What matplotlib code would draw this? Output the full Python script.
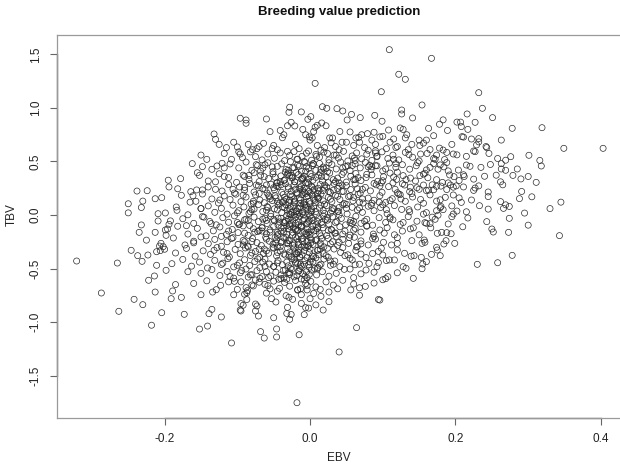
import matplotlib
matplotlib.use("Agg")
import matplotlib.pyplot as plt

# ---------------- data (EBV, TBV), grouped by TBV band ----------------
ebv_top = [0.109, 0.167, 0.122, 0.131, 0.007, 0.232, 0.098, 0.154, 0.017, -0.028,
           -0.096, -0.088, -0.088, -0.029, -0.012, 0.023, 0.037, 0.045, 0.057, 0.126,
           0.126, 0.089, 0.141, 0.069, 0.051, 0.001, -0.003, -0.060, -0.026, -0.031,
           -0.021, 0.016, 0.022, 0.010, 0.007, 0.099, 0.124, 0.128, 0.237, 0.251,
           0.216, 0.183, 0.178, 0.202, 0.207, 0.208, 0.227, 0.217, 0.163, 0.278,
           0.319, -0.132, -0.130, -0.100, -0.055, -0.041, -0.036, -0.038, 0.108, 0.041,
           0.055, 0.079, 0.088, 0.071, 0.096, 0.100, 0.133, 0.131, 0.150, 0.160,
           0.156, -0.006, -0.001, 0.003, 0.000, 0.027, 0.031, 0.029, 0.044, 0.050,
           0.063, 0.067, -0.064, -0.079, -0.073, 0.189, 0.170, 0.209, 0.211, 0.222,
           0.232, 0.232, 0.229, 0.242, 0.243, 0.263, 0.349, 0.403, 0.151, 0.183,
           -0.085, -0.070, -0.050, -0.045, -0.020, -0.015, 0.010, 0.015, 0.020, 0.035,
           0.040, 0.060, 0.075, 0.080, 0.090, 0.105, 0.110, 0.120, 0.135, 0.140,
           -0.115, -0.125, -0.105, 0.178, 0.195, 0.165, 0.005, -0.010, 0.085, 0.115]
tbv_top = [1.545, 1.464, 1.315, 1.268, 1.230, 1.143, 1.152, 1.028, 1.012, 1.007,
           0.904, 0.888, 0.857, 0.960, 0.963, 0.997, 0.994, 0.972, 0.940, 0.981,
           0.944, 0.931, 0.907, 0.910, 0.888, 0.919, 0.894, 0.897, 0.866, 0.834,
           0.832, 0.860, 0.834, 0.838, 0.820, 0.876, 0.813, 0.800, 0.997, 0.910,
           0.944, 0.889, 0.848, 0.868, 0.868, 0.826, 0.866, 0.800, 0.810, 0.810,
           0.816, 0.757, 0.707, 0.636, 0.779, 0.790, 0.750, 0.722, 0.794, 0.780,
           0.776, 0.760, 0.773, 0.750, 0.730, 0.735, 0.750, 0.720, 0.700, 0.700,
           0.672, 0.750, 0.730, 0.720, 0.700, 0.720, 0.720, 0.675, 0.680, 0.680,
           0.720, 0.725, 0.670, 0.610, 0.620, 0.790, 0.741, 0.732, 0.728, 0.710,
           0.714, 0.683, 0.655, 0.640, 0.630, 0.700, 0.623, 0.623, 0.650, 0.607,
           0.660, 0.640, 0.650, 0.610, 0.660, 0.620, 0.650, 0.605, 0.630, 0.640,
           0.610, 0.650, 0.630, 0.605, 0.660, 0.620, 0.680, 0.640, 0.610, 0.660,
           0.630, 0.660, 0.680, 0.625, 0.660, 0.612, 0.780, 0.800, 0.700, 0.710]

ebv_p05 = [-0.093, 0.225, 0.227, 0.301, 0.316, 0.269, 0.174, 0.161, 0.197, 0.202,
           0.215, 0.170, 0.188, -0.150, -0.118, -0.108, -0.082, -0.075, -0.066, -0.058,
           -0.049, -0.041, -0.035, -0.028, -0.022, -0.017, -0.011, -0.005, 0.002, 0.008,
           0.013, 0.019, 0.026, 0.033, 0.039, 0.046, 0.052, 0.058, 0.064, 0.071,
           0.078, 0.085, 0.092, 0.099, 0.107, 0.114, 0.122, 0.131, 0.141, 0.150,
           0.246, 0.258, 0.185, -0.098, -0.002, 0.024, 0.061, 0.136, -0.031, 0.276]
tbv_p05 = [0.536, 0.598, 0.592, 0.558, 0.510, 0.512, 0.560, 0.575, 0.570, 0.562,
           0.548, 0.528, 0.585, 0.560, 0.575, 0.520, 0.590, 0.545, 0.515, 0.570,
           0.530, 0.580, 0.508, 0.556, 0.592, 0.522, 0.548, 0.578, 0.512, 0.566,
           0.540, 0.588, 0.515, 0.560, 0.532, 0.595, 0.505, 0.552, 0.580, 0.525,
           0.568, 0.510, 0.545, 0.590, 0.528, 0.560, 0.515, 0.585, 0.540, 0.505,
           0.575, 0.528, 0.518, 0.590, 0.598, 0.575, 0.532, 0.565, 0.595, 0.545]

ebv_p04 = [-0.162, -0.128, -0.121, -0.110, -0.135, 0.263, 0.263, 0.269, 0.318, 0.215,
           0.220, 0.188, 0.179, 0.170, 0.165, 0.176, 0.204, 0.160, 0.190, -0.098,
           -0.088, -0.080, -0.072, -0.065, -0.058, -0.051, -0.045, -0.039, -0.033, -0.027,
           -0.022, -0.017, -0.012, -0.007, -0.002, 0.003, 0.008, 0.013, 0.018, 0.024,
           0.030, 0.036, 0.042, 0.049, 0.055, 0.062, 0.069, 0.076, 0.084, 0.092,
           0.100, 0.109, 0.118, 0.127, 0.137, 0.148, -0.148, -0.015, 0.005, 0.045,
           -0.030, -0.062, 0.015, 0.082, 0.235, 0.248, -0.005, 0.026, 0.058, 0.285]
tbv_p04 = [0.480, 0.458, 0.483, 0.477, 0.427, 0.480, 0.430, 0.418, 0.458, 0.467,
           0.455, 0.490, 0.468, 0.480, 0.445, 0.428, 0.420, 0.421, 0.412, 0.440,
           0.495, 0.418, 0.462, 0.438, 0.488, 0.405, 0.455, 0.478, 0.425, 0.498,
           0.442, 0.468, 0.410, 0.490, 0.435, 0.462, 0.418, 0.482, 0.448, 0.405,
           0.472, 0.430, 0.495, 0.452, 0.415, 0.478, 0.440, 0.492, 0.425, 0.460,
           0.412, 0.485, 0.445, 0.470, 0.428, 0.488, 0.452, 0.455, 0.478, 0.440,
           0.418, 0.470, 0.428, 0.465, 0.445, 0.472, 0.452, 0.488, 0.462, 0.430]

ebv_p03 = [-0.155, -0.152, 0.279, 0.256, 0.290, 0.311, 0.192, 0.198, 0.211, 0.156,
           0.174, 0.151, 0.162, -0.178, -0.140, -0.125, -0.112, -0.101, -0.092, -0.084,
           -0.077, -0.070, -0.063, -0.057, -0.051, -0.045, -0.040, -0.035, -0.030, -0.025,
           -0.021, -0.016, -0.012, -0.008, -0.004, 0.000, 0.004, 0.008, 0.012, 0.017,
           0.022, 0.027, 0.032, 0.038, 0.044, 0.050, 0.056, 0.063, 0.070, 0.077,
           0.085, 0.093, 0.101, 0.110, 0.119, 0.128, 0.138, 0.182, 0.225, 0.240,
           -0.010, -0.028, 0.002, -0.048, 0.014, 0.035, -0.068, 0.060, 0.098, -0.002,
           -0.019, -0.036, 0.025, 0.145, 0.205, 0.262, -0.195, -0.118, 0.115, 0.300]
tbv_p03 = [0.395, 0.370, 0.370, 0.372, 0.337, 0.305, 0.374, 0.358, 0.376, 0.382,
           0.330, 0.368, 0.348, 0.340, 0.318, 0.385, 0.350, 0.305, 0.372, 0.332,
           0.395, 0.312, 0.358, 0.340, 0.384, 0.302, 0.365, 0.328, 0.392, 0.345,
           0.310, 0.378, 0.338, 0.362, 0.305, 0.388, 0.325, 0.352, 0.372, 0.318,
           0.358, 0.392, 0.330, 0.345, 0.378, 0.308, 0.362, 0.388, 0.322, 0.350,
           0.375, 0.315, 0.358, 0.392, 0.332, 0.368, 0.345, 0.305, 0.335, 0.362,
           0.348, 0.368, 0.360, 0.352, 0.395, 0.312, 0.372, 0.330, 0.300, 0.335,
           0.398, 0.322, 0.302, 0.318, 0.322, 0.310, 0.325, 0.360, 0.355, 0.360]

ebv_p02 = [-0.238, -0.224, -0.194, -0.164, -0.156, -0.148, -0.130, -0.121, 0.291, 0.193,
           0.197, 0.201, 0.180, 0.174, 0.168, 0.163, 0.160, 0.156, 0.170, 0.188,
           0.211, 0.227, 0.225, 0.232, -0.112, -0.104, -0.097, -0.090, -0.083, -0.077,
           -0.071, -0.065, -0.059, -0.054, -0.049, -0.044, -0.039, -0.034, -0.030, -0.026,
           -0.022, -0.018, -0.014, -0.010, -0.006, -0.002, 0.002, 0.006, 0.010, 0.014,
           0.018, 0.023, 0.028, 0.033, 0.038, 0.044, 0.050, 0.056, 0.062, 0.069,
           0.076, 0.083, 0.091, 0.099, 0.108, 0.117, 0.127, 0.137, 0.147, 0.245,
           -0.140, -0.182, -0.008, -0.020, 0.004, -0.040, 0.020, -0.062, 0.040, 0.088,
           -0.030, -0.012, 0.012, -0.050, 0.065, 0.120, 0.265, -0.090, 0.032, 0.000]
tbv_p02 = [0.224, 0.227, 0.262, 0.218, 0.234, 0.234, 0.240, 0.224, 0.220, 0.280,
           0.260, 0.272, 0.270, 0.268, 0.282, 0.232, 0.228, 0.280, 0.236, 0.238,
           0.262, 0.252, 0.230, 0.272, 0.285, 0.205, 0.262, 0.232, 0.295, 0.215,
           0.272, 0.248, 0.205, 0.288, 0.235, 0.265, 0.212, 0.292, 0.245, 0.222,
           0.280, 0.208, 0.255, 0.232, 0.298, 0.218, 0.268, 0.242, 0.202, 0.285,
           0.228, 0.262, 0.210, 0.295, 0.248, 0.220, 0.275, 0.238, 0.290, 0.205,
           0.258, 0.225, 0.282, 0.212, 0.265, 0.240, 0.292, 0.218, 0.255, 0.215,
           0.262, 0.245, 0.250, 0.240, 0.228, 0.282, 0.252, 0.238, 0.270, 0.295,
           0.262, 0.268, 0.225, 0.255, 0.245, 0.208, 0.282, 0.258, 0.232, 0.205]

ebv_p01 = [-0.204, -0.213, -0.177, -0.161, -0.165, -0.157, -0.148, 0.288, 0.345, 0.222,
           0.197, 0.179, 0.174, 0.165, 0.186, 0.156, 0.208, 0.245, -0.250, -0.135,
           -0.126, -0.118, -0.110, -0.102, -0.095, -0.088, -0.081, -0.075, -0.069, -0.063,
           -0.057, -0.052, -0.047, -0.042, -0.037, -0.033, -0.029, -0.025, -0.021, -0.017,
           -0.013, -0.009, -0.005, -0.001, 0.003, 0.007, 0.011, 0.015, 0.020, 0.025,
           0.030, 0.035, 0.041, 0.047, 0.053, 0.059, 0.066, 0.073, 0.080, 0.088,
           0.096, 0.104, 0.113, 0.122, 0.131, 0.141, 0.152, 0.262, 0.305, -0.230,
           -0.015, -0.035, 0.005, -0.055, 0.018, -0.003, -0.022, 0.038, -0.078, 0.060,
           -0.008, -0.028, 0.010, -0.045, 0.028, -0.092, 0.085, 0.110, -0.011, 0.000]
tbv_p01 = [0.162, 0.152, 0.184, 0.180, 0.120, 0.128, 0.196, 0.153, 0.120, 0.140,
           0.187, 0.142, 0.130, 0.188, 0.165, 0.110, 0.118, 0.172, 0.105, 0.150,
           0.112, 0.178, 0.145, 0.195, 0.125, 0.168, 0.102, 0.188, 0.140, 0.115,
           0.182, 0.135, 0.160, 0.108, 0.192, 0.148, 0.118, 0.175, 0.130, 0.198,
           0.142, 0.105, 0.170, 0.128, 0.188, 0.115, 0.155, 0.195, 0.102, 0.165,
           0.125, 0.185, 0.145, 0.108, 0.172, 0.132, 0.192, 0.112, 0.158, 0.138,
           0.180, 0.118, 0.152, 0.195, 0.128, 0.168, 0.145, 0.125, 0.170, 0.130,
           0.160, 0.165, 0.150, 0.150, 0.132, 0.178, 0.115, 0.175, 0.128, 0.165,
           0.118, 0.140, 0.172, 0.125, 0.148, 0.185, 0.110, 0.135, 0.190, 0.105]

ebv_p00 = [-0.209, -0.199, -0.184, -0.183, -0.168, 0.233, 0.269, 0.274, 0.266, 0.295,
           0.183, 0.179, 0.160, 0.156, 0.174, 0.195, 0.215, 0.245, -0.232, -0.150,
           -0.140, -0.131, -0.122, -0.114, -0.106, -0.098, -0.091, -0.084, -0.077, -0.071,
           -0.065, -0.059, -0.054, -0.049, -0.044, -0.039, -0.035, -0.031, -0.027, -0.023,
           -0.019, -0.015, -0.011, -0.007, -0.003, 0.001, 0.005, 0.009, 0.013, 0.018,
           0.023, 0.028, 0.033, 0.039, 0.045, 0.051, 0.058, 0.065, 0.072, 0.080,
           0.088, 0.097, 0.106, 0.116, 0.126, 0.137, 0.148, 0.330, -0.250, -0.006,
           -0.025, 0.002, -0.045, 0.015, -0.013, -0.033, 0.030, -0.060, 0.050, -0.002,
           -0.017, 0.008, -0.038, 0.020, -0.082, 0.068, -0.010, -0.028, 0.100, 0.040]
tbv_p00 = [0.012, 0.019, 0.075, 0.044, 0.002, 0.087, 0.095, 0.080, 0.062, 0.018,
           0.050, 0.068, 0.022, 0.008, 0.040, 0.085, 0.030, 0.055, 0.070, 0.060,
           0.085, 0.025, 0.062, 0.008, 0.092, 0.040, 0.075, 0.015, 0.055, 0.098,
           0.032, 0.078, 0.012, 0.058, 0.092, 0.022, 0.068, 0.045, 0.005, 0.085,
           0.038, 0.062, 0.015, 0.095, 0.050, 0.028, 0.080, 0.005, 0.065, 0.042,
           0.088, 0.018, 0.058, 0.035, 0.095, 0.010, 0.072, 0.048, 0.025, 0.082,
           0.040, 0.070, 0.012, 0.088, 0.052, 0.030, 0.075, 0.060, 0.020, 0.072,
           0.025, 0.058, 0.048, 0.092, 0.080, 0.095, 0.040, 0.045, 0.062, 0.012,
           0.005, 0.032, 0.075, 0.015, 0.030, 0.065, 0.030, 0.058, 0.095, 0.070]

ebv_m00 = [-0.232, -0.209, -0.192, -0.194, 0.274, 0.217, 0.172, 0.165, 0.160, 0.158,
           0.190, 0.195, 0.197, 0.202, 0.176, 0.243, -0.175, -0.160, -0.148, -0.138,
           -0.129, -0.120, -0.112, -0.104, -0.097, -0.090, -0.083, -0.077, -0.071, -0.065,
           -0.059, -0.054, -0.049, -0.044, -0.040, -0.036, -0.032, -0.028, -0.024, -0.020,
           -0.016, -0.012, -0.008, -0.004, 0.000, 0.004, 0.008, 0.012, 0.016, 0.021,
           0.026, 0.031, 0.037, 0.043, 0.049, 0.056, 0.063, 0.070, 0.078, 0.086,
           0.095, 0.104, 0.114, 0.124, 0.135, 0.147, -0.030, -0.010, -0.020, 0.002,
           -0.042, 0.018, -0.062, 0.035, -0.005, -0.026, 0.055, -0.085, 0.010, -0.016,
           -0.034, -0.050, 0.075, -0.002, -0.014, 0.024, -0.100, 0.110, -0.022, 0.300]
tbv_m00 = [-0.093, -0.056, -0.055, -0.087, -0.031, -0.028, -0.040, -0.081, -0.078, -0.071,
           -0.084, -0.016, 0.009, 0.037, -0.002, -0.062, -0.035, -0.078, -0.015, -0.060,
           -0.092, -0.025, -0.068, -0.008, -0.085, -0.045, -0.098, -0.020, -0.062, -0.038,
           -0.080, -0.012, -0.055, -0.095, -0.030, -0.070, -0.005, -0.088, -0.048, -0.022,
           -0.065, -0.098, -0.035, -0.075, -0.010, -0.052, -0.090, -0.028, -0.068, -0.042,
           -0.085, -0.018, -0.060, -0.032, -0.092, -0.050, -0.012, -0.078, -0.040, -0.095,
           -0.025, -0.070, -0.045, -0.088, -0.015, -0.058, -0.040, -0.050, -0.078, -0.030,
           -0.065, -0.008, -0.030, -0.070, -0.085, -0.018, -0.072, -0.052, -0.060, -0.092,
           -0.055, -0.042, -0.058, -0.062, -0.012, -0.048, -0.070, -0.035, -0.002, -0.095]

ebv_m01 = [-0.235, -0.213, -0.196, -0.199, -0.198, 0.343, 0.273, 0.250, 0.252, 0.181,
           0.175, 0.188, 0.194, 0.166, 0.150, 0.210, -0.182, -0.168, -0.155, -0.143,
           -0.133, -0.124, -0.115, -0.107, -0.099, -0.092, -0.085, -0.078, -0.072, -0.066,
           -0.060, -0.055, -0.050, -0.045, -0.040, -0.036, -0.032, -0.028, -0.024, -0.020,
           -0.016, -0.012, -0.008, -0.004, 0.000, 0.004, 0.008, 0.013, 0.018, 0.023,
           0.029, 0.035, 0.041, 0.048, 0.055, 0.062, 0.070, 0.078, 0.087, 0.096,
           0.106, 0.116, 0.127, 0.138, -0.018, -0.030, -0.006, 0.010, -0.045, 0.025,
           -0.070, 0.045, -0.012, -0.024, 0.002, -0.036, 0.060, -0.090, 0.015, -0.002]
tbv_m01 = [-0.162, -0.162, -0.131, -0.140, -0.190, -0.193, -0.162, -0.131, -0.159, -0.162,
           -0.171, -0.165, -0.175, -0.120, -0.185, -0.110, -0.105, -0.178, -0.125, -0.195,
           -0.148, -0.112, -0.182, -0.135, -0.165, -0.102, -0.190, -0.128, -0.155, -0.118,
           -0.175, -0.140, -0.108, -0.195, -0.152, -0.122, -0.180, -0.105, -0.162, -0.138,
           -0.198, -0.115, -0.158, -0.132, -0.185, -0.108, -0.145, -0.172, -0.120, -0.192,
           -0.135, -0.168, -0.110, -0.150, -0.188, -0.125, -0.160, -0.105, -0.178, -0.140,
           -0.118, -0.185, -0.150, -0.130, -0.150, -0.130, -0.172, -0.128, -0.162, -0.145,
           -0.145, -0.178, -0.105, -0.188, -0.138, -0.155, -0.142, -0.170, -0.195, -0.162]

ebv_m02 = [-0.205, -0.207, -0.202, 0.157, 0.158, 0.154, 0.187, 0.184, 0.199, 0.120,
           0.120, -0.225, -0.188, -0.172, -0.160, -0.150, -0.140, -0.131, -0.122, -0.114,
           -0.106, -0.099, -0.092, -0.085, -0.079, -0.073, -0.067, -0.061, -0.056, -0.051,
           -0.046, -0.041, -0.036, -0.032, -0.028, -0.024, -0.020, -0.016, -0.012, -0.008,
           -0.004, 0.000, 0.004, 0.009, 0.014, 0.019, 0.025, 0.031, 0.038, 0.045,
           0.053, 0.061, 0.070, 0.080, 0.090, 0.101, 0.140, -0.022, -0.010, -0.030,
           0.002, -0.040, 0.015, -0.060, 0.028, -0.018, -0.002, -0.080, 0.040, 0.065]
tbv_m02 = [-0.265, -0.290, -0.296, -0.234, -0.255, -0.265, -0.240, -0.271, -0.265, -0.212,
           -0.265, -0.235, -0.215, -0.280, -0.245, -0.205, -0.268, -0.228, -0.292, -0.250,
           -0.212, -0.275, -0.238, -0.298, -0.220, -0.258, -0.285, -0.208, -0.245, -0.272,
           -0.232, -0.295, -0.215, -0.262, -0.240, -0.282, -0.205, -0.255, -0.225, -0.290,
           -0.248, -0.212, -0.275, -0.230, -0.262, -0.298, -0.218, -0.250, -0.285, -0.228,
           -0.265, -0.208, -0.242, -0.280, -0.225, -0.255, -0.240, -0.270, -0.248, -0.238,
           -0.232, -0.258, -0.288, -0.225, -0.270, -0.222, -0.285, -0.248, -0.255, -0.295]

ebv_m03 = [-0.246, -0.237, -0.223, -0.211, -0.206, -0.200, 0.278, 0.175, 0.174, 0.179,
           0.167, 0.120, 0.130, 0.143, 0.139, 0.153, 0.100, 0.098, 0.086, 0.077,
           -0.185, -0.170, -0.158, -0.147, -0.137, -0.128, -0.119, -0.111, -0.103, -0.096,
           -0.089, -0.082, -0.075, -0.069, -0.063, -0.057, -0.051, -0.046, -0.041, -0.036,
           -0.031, -0.026, -0.021, -0.016, -0.011, -0.006, -0.001, 0.005, 0.011, 0.018,
           0.025, 0.033, 0.042, 0.052, 0.063, -0.018, -0.008, -0.028, 0.000, -0.045,
           0.012, -0.060, -0.014, -0.034, 0.003, 0.045, -0.080, 0.070, -0.004, -0.022]
tbv_m03 = [-0.330, -0.380, -0.374, -0.343, -0.333, -0.320, -0.377, -0.327, -0.302, -0.380,
           -0.368, -0.327, -0.358, -0.380, -0.385, -0.396, -0.374, -0.311, -0.360, -0.398,
           -0.355, -0.312, -0.385, -0.335, -0.368, -0.305, -0.348, -0.392, -0.322, -0.362,
           -0.308, -0.378, -0.340, -0.395, -0.318, -0.358, -0.302, -0.382, -0.335, -0.365,
           -0.312, -0.390, -0.345, -0.325, -0.372, -0.305, -0.352, -0.388, -0.328, -0.360,
           -0.395, -0.318, -0.350, -0.372, -0.332, -0.362, -0.332, -0.345, -0.318, -0.350,
           -0.370, -0.335, -0.395, -0.375, -0.382, -0.305, -0.355, -0.365, -0.398, -0.308]

ebv_m04 = [-0.321, -0.265, -0.231, -0.211, 0.258, 0.230, 0.160, 0.155, 0.128, 0.132,
           0.109, 0.105, 0.094, 0.092, 0.081, 0.068, 0.062, 0.041, 0.055, -0.190,
           -0.175, -0.163, -0.152, -0.141, -0.131, -0.122, -0.113, -0.105, -0.097, -0.090,
           -0.083, -0.076, -0.069, -0.062, -0.056, -0.050, -0.044, -0.038, -0.032, -0.027,
           -0.022, -0.017, -0.012, -0.007, -0.002, 0.004, 0.011, 0.019, 0.028, -0.020,
           -0.008, -0.030, 0.002, -0.045, 0.015, -0.065, -0.014, -0.001, 0.034, -0.100]
tbv_m04 = [-0.430, -0.449, -0.433, -0.470, -0.446, -0.461, -0.436, -0.458, -0.483, -0.498,
           -0.420, -0.426, -0.446, -0.483, -0.452, -0.460, -0.465, -0.483, -0.405, -0.455,
           -0.415, -0.478, -0.440, -0.495, -0.425, -0.462, -0.408, -0.485, -0.448, -0.418,
           -0.472, -0.435, -0.492, -0.412, -0.458, -0.480, -0.425, -0.465, -0.440, -0.498,
           -0.418, -0.455, -0.482, -0.428, -0.465, -0.438, -0.490, -0.412, -0.470, -0.440,
           -0.462, -0.475, -0.410, -0.448, -0.460, -0.440, -0.498, -0.488, -0.430, -0.470]

ebv_m05 = [-0.198, -0.168, 0.154, 0.142, 0.104, 0.107, 0.077, 0.070, 0.055, 0.047,
           -0.069, -0.066, -0.057, -0.054, -0.150, -0.135, -0.124, -0.114, -0.105, -0.096,
           -0.088, -0.080, -0.073, -0.047, -0.040, -0.034, -0.028, -0.022, -0.016, -0.010,
           -0.004, 0.002, 0.009, 0.017, 0.026, 0.036, -0.025, -0.012, -0.040, 0.088,
           -0.018, -0.005, -0.060, 0.120, -0.085, -0.030, 0.010, -0.110, 0.060, -0.001]
tbv_m05 = [-0.517, -0.530, -0.502, -0.592, -0.595, -0.576, -0.514, -0.550, -0.505, -0.508,
           -0.592, -0.576, -0.585, -0.570, -0.545, -0.510, -0.565, -0.528, -0.590, -0.540,
           -0.505, -0.558, -0.520, -0.535, -0.595, -0.512, -0.555, -0.578, -0.525, -0.548,
           -0.588, -0.515, -0.560, -0.530, -0.572, -0.545, -0.508, -0.598, -0.560, -0.535,
           -0.568, -0.530, -0.528, -0.540, -0.580, -0.540, -0.500, -0.575, -0.585, -0.555]

ebv_m06 = [-0.222, -0.214, 0.088, 0.076, -0.078, -0.080, -0.075, -0.123, -0.088, -0.129,
           -0.100, 0.014, -0.160, -0.142, -0.112, -0.062, -0.050, -0.042, -0.035, -0.028,
           -0.020, -0.013, -0.006, 0.001, 0.008, 0.022, 0.032, 0.045, 0.060, -0.017,
           -0.004, -0.095, 0.100, -0.185, -0.032, 0.068, -0.055, -0.008, 0.038, -0.070]
tbv_m06 = [-0.610, -0.570, -0.636, -0.667, -0.663, -0.654, -0.607, -0.657, -0.679, -0.698,
           -0.695, -0.695, -0.640, -0.615, -0.625, -0.648, -0.618, -0.685, -0.630, -0.665,
           -0.612, -0.690, -0.640, -0.620, -0.672, -0.625, -0.655, -0.610, -0.645, -0.698,
           -0.660, -0.625, -0.605, -0.650, -0.600, -0.680, -0.690, -0.605, -0.690, -0.628]

ebv_m07 = [-0.213, -0.189, -0.150, -0.177, -0.191, -0.134, -0.105, -0.087, -0.087, -0.086,
           -0.090, -0.033, -0.029, -0.024, -0.017, -0.004, 0.056, 0.068, 0.026, 0.005,
           0.000, 0.094, 0.096, -0.053, -0.287, -0.242, -0.060, -0.045, 0.015, -0.012]
tbv_m07 = [-0.720, -0.710, -0.745, -0.770, -0.782, -0.720, -0.745, -0.726, -0.790, -0.707,
           -0.740, -0.754, -0.769, -0.788, -0.702, -0.700, -0.700, -0.750, -0.720, -0.733,
           -0.782, -0.790, -0.795, -0.782, -0.729, -0.788, -0.730, -0.712, -0.760, -0.745]

ebv_low = [-0.230, -0.263, -0.204, -0.173, -0.218, -0.152, -0.141, -0.135, -0.139, -0.122,
           -0.108, -0.095, -0.095, -0.092, -0.096, -0.075, -0.073, -0.075, -0.071, -0.068,
           -0.063, -0.046, -0.046, -0.047, -0.031, -0.032, -0.026, -0.028, -0.008, -0.012,
           -0.006, -0.002, 0.018, 0.026, -0.015, -0.018, 0.040, 0.064, -0.050, 0.008]
tbv_low = [-0.838, -0.900, -0.913, -0.928, -1.030, -1.066, -1.038, -0.882, -0.922, -0.953,
           -1.196, -0.897, -0.828, -0.843, -0.888, -0.832, -0.850, -0.897, -0.944, -1.090,
           -1.150, -1.065, -1.140, -0.813, -0.863, -0.920, -0.930, -0.975, -0.931, -0.826,
           -0.866, -0.870, -0.888, -0.810, -1.119, -1.754, -1.280, -1.053, -0.960, -0.840]

# extra points in the dense core of the cloud
ebv_core = [-0.052, -0.031, -0.018, -0.006, 0.004, 0.016, -0.041, -0.024, -0.011, 0.009,
            -0.046, -0.027, -0.014, -0.002, 0.012, 0.026, -0.036, -0.021, -0.008, 0.020,
            -0.058, -0.038, -0.019, -0.005, 0.007, 0.031, -0.048, -0.029, -0.013, 0.002,
            -0.044, -0.026, -0.015, -0.001, 0.011, 0.024, -0.035, -0.020, -0.009, 0.017,
            -0.055, -0.033, -0.017, -0.004, 0.008, 0.034, -0.047, -0.023, -0.010, 0.005,
            -0.050, -0.030, -0.016, -0.003, 0.010, 0.022, -0.039, -0.025, -0.012, 0.000,
            -0.062, -0.037, -0.020, -0.007, 0.006, 0.028, -0.043, -0.028, -0.014, 0.013,
            -0.070, 0.040, -0.032, 0.050, -0.024, 0.036, -0.060, 0.046, -0.016, 0.055,
            -0.080, 0.062, -0.045, 0.072, -0.066, 0.080, -0.090, 0.058, -0.074, 0.068,
            -0.008, -0.019, 0.003, -0.027, -0.013, 0.014, -0.034, -0.005, -0.022, 0.008,
            -0.010, -0.017, 0.001, -0.029, -0.006, 0.019, -0.040, -0.015, -0.025, 0.011,
            0.085, 0.100, 0.115, 0.130, 0.095, 0.120, 0.140, 0.105, 0.090, 0.125]
tbv_core = [0.45, 0.38, 0.52, 0.41, 0.48, 0.36, 0.31, 0.44, 0.33, 0.55,
            0.27, 0.19, 0.24, 0.29, 0.16, 0.22, 0.13, 0.31, 0.21, 0.28,
            0.07, 0.12, 0.03, 0.09, 0.14, 0.06, 0.18, 0.01, 0.11, 0.04,
            -0.03, -0.08, 0.02, -0.05, -0.11, -0.02, -0.07, -0.13, 0.00, -0.09,
            -0.16, -0.21, -0.14, -0.19, -0.24, -0.17, -0.26, -0.12, -0.22, -0.15,
            -0.31, -0.27, -0.35, -0.29, -0.33, -0.38, -0.25, -0.41, -0.30, -0.44,
            -0.48, -0.52, -0.45, -0.57, -0.50, -0.43, -0.60, -0.54, -0.39, -0.47,
            0.20, 0.30, -0.10, 0.10, 0.35, -0.20, -0.05, 0.40, -0.28, 0.18,
            0.05, 0.33, -0.30, 0.24, -0.15, 0.45, -0.25, -0.08, 0.28, 0.12,
            0.50, -0.36, 0.26, 0.08, -0.46, -0.32, 0.40, -0.18, 0.15, -0.40,
            0.34, 0.06, -0.26, -0.38, 0.20, 0.43, -0.12, -0.52, 0.37, 0.25,
            0.45, 0.32, 0.52, 0.28, 0.12, 0.40, 0.20, 0.05, 0.58, 0.15]

# further points across the body of the ellipse
ebv_body = [-0.142, -0.118, -0.096, -0.074, -0.052, 0.068, 0.092, 0.118, 0.146, 0.172,
            -0.130, -0.106, -0.084, -0.060, 0.052, 0.078, 0.104, 0.132, 0.158, 0.190,
            -0.150, -0.124, -0.100, -0.078, -0.056, 0.046, 0.072, 0.096, 0.124, 0.150,
            -0.136, -0.112, -0.088, -0.066, -0.044, 0.038, 0.060, 0.084, 0.110, 0.136,
            -0.160, -0.132, -0.108, -0.086, -0.064, 0.030, 0.054, 0.078, 0.102, 0.128,
            -0.120, -0.094, -0.072, -0.050, 0.024, 0.048, 0.070, 0.094, 0.180, 0.205,
            -0.104, -0.082, -0.058, -0.036, 0.032, 0.058, 0.086, 0.112, 0.142, 0.168,
            -0.170, -0.146, -0.122, -0.098, -0.076, 0.016, 0.040, 0.064, 0.088, 0.116,
            -0.090, -0.068, -0.046, 0.036, 0.062, 0.090, 0.118, 0.152, 0.184, 0.212,
            -0.114, -0.092, -0.070, -0.048, 0.022, 0.044, 0.066, 0.090, 0.114, 0.138]
tbv_body = [0.52, 0.44, 0.57, 0.47, 0.62, 0.68, 0.55, 0.63, 0.46, 0.52,
            0.31, 0.24, 0.37, 0.28, 0.46, 0.38, 0.43, 0.33, 0.39, 0.30,
            0.06, 0.14, 0.02, 0.11, 0.17, 0.22, 0.15, 0.27, 0.19, 0.24,
            -0.08, -0.15, -0.04, -0.12, -0.18, 0.03, -0.06, 0.09, -0.02, 0.05,
            -0.26, -0.33, -0.22, -0.29, -0.36, -0.14, -0.21, -0.10, -0.17, -0.07,
            -0.45, -0.52, -0.41, -0.48, -0.31, -0.38, -0.27, -0.34, 0.08, 0.16,
            -0.62, -0.56, -0.66, -0.59, -0.46, -0.42, -0.22, -0.28, -0.12, -0.02,
            -0.10, -0.02, -0.20, -0.09, -0.16, -0.22, 0.00, -0.30, -0.20, -0.42,
            0.36, 0.41, 0.30, 0.56, 0.51, 0.60, 0.48, 0.57, 0.45, 0.36,
            -0.36, -0.28, -0.32, -0.21, 0.44, 0.28, 0.35, 0.46, 0.30, 0.26]

x_ticks = [-0.2, 0.0, 0.2, 0.4]
y_ticks = [-1.5, -1.0, -0.5, 0.0, 0.5, 1.0, 1.5]
title = "Breeding value prediction"
x_label = "EBV"
y_label = "TBV"

groups = [(ebv_top, tbv_top), (ebv_p05, tbv_p05), (ebv_p04, tbv_p04), (ebv_p03, tbv_p03),
          (ebv_p02, tbv_p02), (ebv_p01, tbv_p01), (ebv_p00, tbv_p00), (ebv_m00, tbv_m00),
          (ebv_m01, tbv_m01), (ebv_m02, tbv_m02), (ebv_m03, tbv_m03), (ebv_m04, tbv_m04),
          (ebv_m05, tbv_m05), (ebv_m06, tbv_m06), (ebv_m07, tbv_m07), (ebv_low, tbv_low),
          (ebv_core, tbv_core), (ebv_body, tbv_body)]
ebv, tbv = [], []
for gx, gy in groups:
    if len(gx) != len(gy):
        print("length mismatch", len(gx), len(gy))
    n = min(len(gx), len(gy))
    ebv += gx[:n]
    tbv += gy[:n]

# ---------------- figure ----------------
plt.rcParams['font.family'] = ['Liberation Sans', 'DejaVu Sans']
W, H = 620, 470
fig = plt.figure(figsize=(W / 100, H / 100), dpi=100)
ax = fig.add_axes([57 / W, 52 / H, 565 / W, 383 / H])

ax.scatter(ebv, tbv, s=19, facecolors='none', edgecolors='#2b2b2b', linewidths=0.5)

ax.set_xlim(-0.348, 0.429)
ax.set_ylim(-1.897, 1.682)

for sp in ax.spines.values():
    sp.set_color('#9a9a9a')
    sp.set_linewidth(0.9)

ax.set_xticks(x_ticks)
ax.set_xticklabels([f"{v:.1f}" for v in x_ticks])
ax.set_yticks(y_ticks)
ax.set_yticklabels([f"{v:.1f}" for v in y_ticks], rotation=90, va='center')
ax.tick_params(axis='both', direction='out', length=5, width=0.8, color='#666666',
               labelsize=8.5, labelcolor='#222222', pad=6)

# R-style axis lines spanning first to last tick
ax.plot([x_ticks[0], x_ticks[-1]], [0, 0], transform=ax.get_xaxis_transform(),
        color='#666666', lw=1.0, clip_on=False)
ax.plot([0, 0], [y_ticks[0], y_ticks[-1]], transform=ax.get_yaxis_transform(),
        color='#666666', lw=1.0, clip_on=False)

fig.text(339 / W, 1 - 12 / H, title, ha='center', va='center', fontsize=9.5,
         fontweight='bold', color='#111111')
fig.text(339 / W, 1 - 458 / H, x_label, ha='center', va='center', fontsize=8.5,
         color='#222222')
fig.text(12 / W, 1 - 215 / H, y_label, ha='center', va='center', fontsize=8.5,
         rotation=90, color='#222222')

fig.savefig("out.png", dpi=100)
